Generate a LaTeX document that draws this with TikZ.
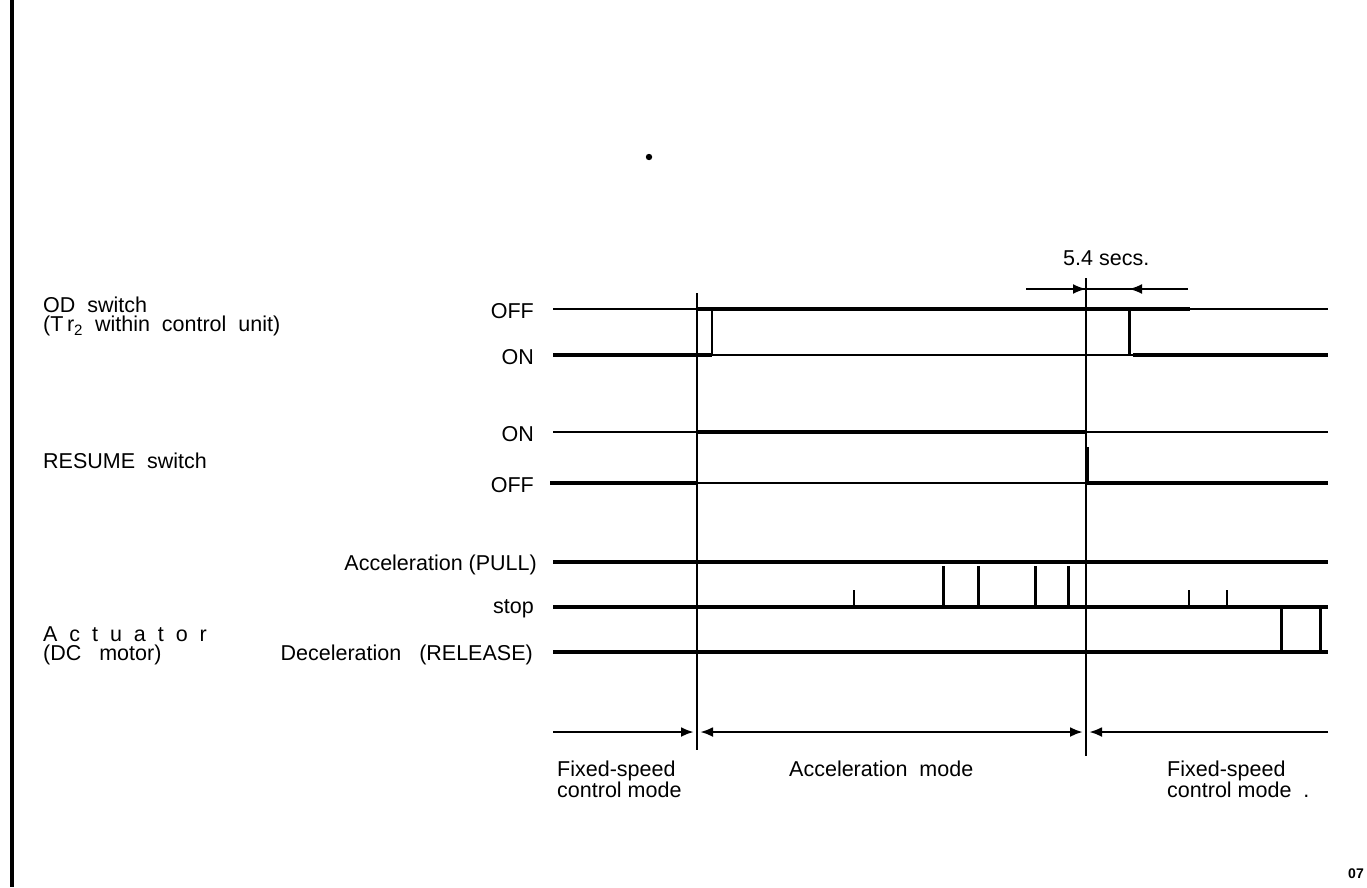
\documentclass[tikz,border=0pt]{standalone}
\usepackage{fontspec}
\setmainfont{Liberation Sans}
\usetikzlibrary{arrows.meta,positioning}
\tikzset{
  sig/.style  ={font=\fontsize{21.5}{19}\selectfont, align=left, anchor=north west, inner sep=0pt},
  lvl/.style  ={font=\fontsize{21.5}{19}\selectfont, anchor=base east, inner sep=0pt},
  modelbl/.style={font=\fontsize{21.5}{19}\selectfont, align=left, anchor=north west, inner sep=0pt},
  hi/.style   ={line width=3.6pt},
  lo/.style   ={line width=1.6pt},
  evt/.style  ={line width=1.8pt},
  pulse/.style={line width=3pt},
  tick/.style ={line width=1.6pt},
  modebar/.style={line width=2.8pt},
  dimarr/.style={-{Latex[length=13pt,width=10pt]}},
}
\begin{document}
\begin{tikzpicture}[x=1pt,y=-1pt]
  \useasboundingbox (0,0) rectangle (1367,887);
  \draw[line width=4.5pt] (12,0) -- (12,887);
  \fill (649,157) circle (3.2pt);

  % signal names
  \node[sig] (od)  at (43,297) {OD\ \ switch\\(T\,r\textsubscript{2}\ \ within\ \ control\ \ unit)};
  \node[sig] (res) at (43,453) {RESUME\ \ switch};
  \node[sig] (act) at (43,626) {A\ \ c\ \ t\ \ u\ \ a\ \ t\ \ o\ \ r\\(DC\ \ \ motor)};

  % levels
  \node[lvl] (odoff) at (534,318) {OFF};
  \node[lvl] (odon)  at (534,364) {ON};
  \node[lvl] (reson) at (534,441) {ON};
  \node[lvl] (resoff) at (534,492) {OFF};
  \node[lvl] (pull)  at (537,570) {Acceleration (PULL)};
  \node[lvl] (stop)  at (534,613) {stop};
  \node[lvl] (rel)   at (533,660) {Deceleration\ \ \ (RELEASE)};

  % events
  \coordinate (e1t) at (697,293);
  \coordinate (e1b) at (697,750);
  \coordinate (e2t) at (1086,278);
  \coordinate (e2b) at (1086,756);
  \draw[evt] (e1t) -- (e1b);
  \draw[evt] (e2t) -- (e2b);

  % 5.4 secs
  \coordinate (sl) at (1026,289);
  \coordinate (sr) at (1188,289);
  \coordinate (sa) at (1086,289);
  \coordinate (sb) at (1129,289);
  \draw[line width=2pt] (sl) -- (sr);
  \draw[line width=2pt,dimarr] (sl) -- (sa);
  \draw[line width=2pt,dimarr] (sr) -- (sb);
  \node[font=\fontsize{21.5}{19}\selectfont, anchor=base west, inner sep=0pt] (secs) at (1063,265) {5.4 secs.};

  % OD switch
  \draw[lo] (553,309) -- (697,309);
  \draw[hi] (697,309) -- (1190,309);
  \draw[lo] (1190,309) -- (1328,309);
  \draw[hi] (553,355) -- (712,355);
  \draw[lo] (712,355) -- (1133,355);
  \draw[hi] (1133,355) -- (1328,355);
  \draw[tick] (712,309) -- (712,355);
  \draw[pulse] (1129,309) -- (1129,355);

  % RESUME switch
  \draw[lo] (553,432) -- (697,432);
  \draw[hi] (697,432) -- (1086,432);
  \draw[lo] (1086,432) -- (1328,432);
  \draw[hi] (550,483) -- (697,483);
  \draw[lo] (697,483) -- (1086,483);
  \draw[hi] (1086,483) -- (1328,483);
  \draw[pulse] (1087,447) -- (1087,483);

  % actuator
  \foreach \y in {562,607,652} \draw[hi] (553,\y) -- (1328,\y);
  \foreach \x in {943,978,1035,1068} \draw[pulse] (\x,566) -- (\x,607);
  \foreach \x in {854,1189,1227} \draw[tick] (\x,590) -- (\x,607);
  \foreach \x in {1281,1320} \draw[pulse] (\x,607) -- (\x,651);

  % modes
  \coordinate (m0) at (553,732);
  \coordinate (m1) at (694,732);
  \coordinate (m2) at (700,732);
  \coordinate (m3) at (1083,732);
  \coordinate (m4) at (1089,732);
  \coordinate (m5) at (1328,732);
  \draw[modebar,dimarr] (m0) -- (m1);
  \draw[modebar,{Latex[length=13pt,width=10pt]}-{Latex[length=13pt,width=10pt]}] (m2) -- (m3);
  \draw[modebar,dimarr] (m5) -- (m4);
  \node[modelbl] (fix1) at (557,761) {Fixed-speed\\control mode};
  \node[modelbl] (accm) at (789,761) {Acceleration\ \ mode};
  \node[modelbl] (fix2) at (1167,761) {Fixed-speed\\control mode\ \ .};

  \node[font=\fontsize{14}{16}\selectfont\bfseries, anchor=base east, inner sep=0pt] (pg) at (1364,878) {07};
\end{tikzpicture}
\end{document}
